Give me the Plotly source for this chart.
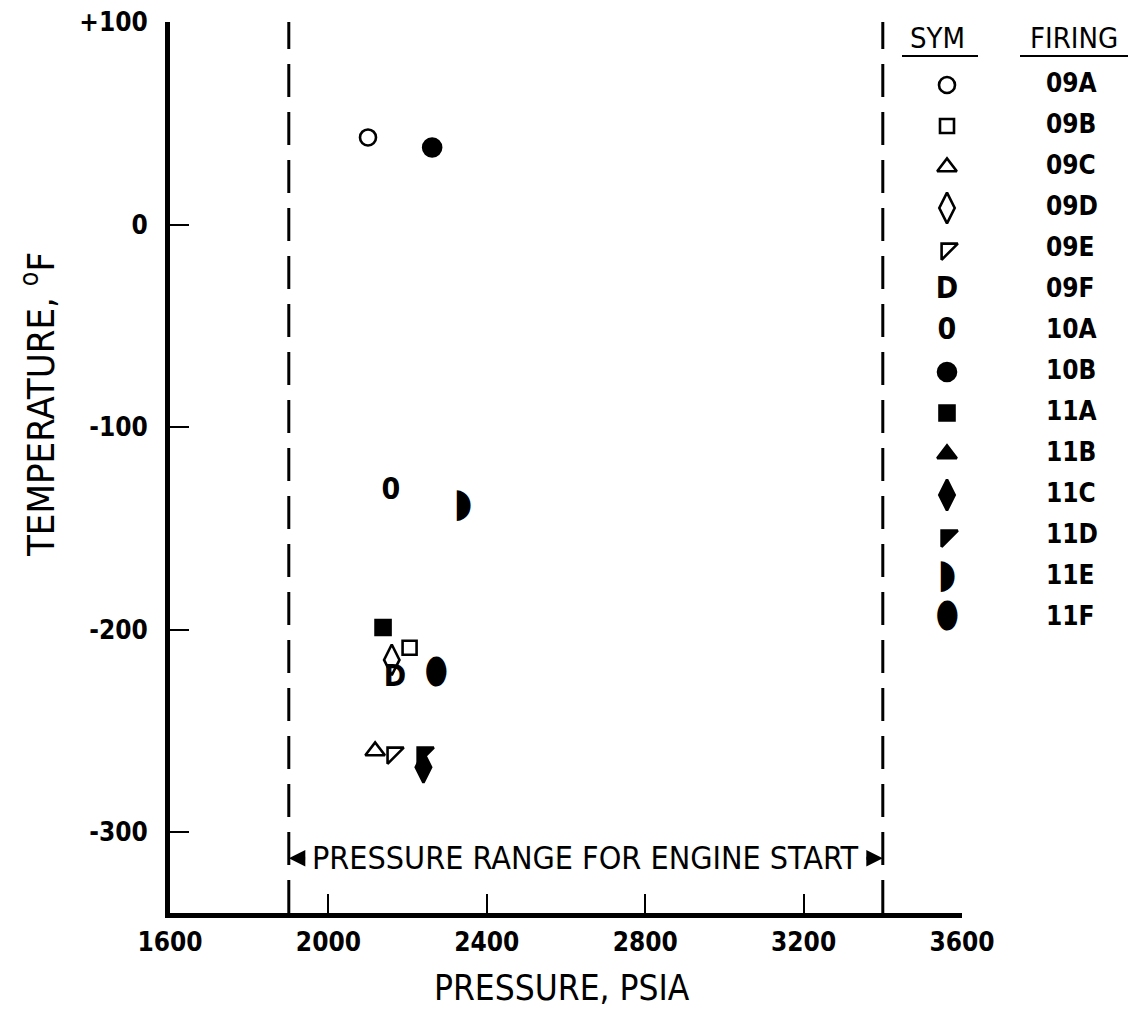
import plotly.graph_objects as go

# ---------------- data ----------------
firings = ["09A", "09B", "09C", "09D", "09E", "09F", "10A",
           "10B", "11A", "11B", "11C", "11D", "11E", "11F"]
pressure_psia = [2100, 2205, 2118, 2160, 2163, 2168, 2158,
                 2262, 2138, None, 2240, 2239, 2340, 2274]
temperature_f = [43, -209, -260, -215, -261, -224, -132,
                 38, -199, None, -268, -261, -139, -222]
x_ticks = [1600, 2000, 2400, 2800, 3200, 3600]
y_ticks = [100, 0, -100, -200, -300]
y_tick_text = ["+100", "0", "-100", "-200", "-300"]
start_range_psia = [1900, 3400]

# ---------------- styles ----------------
# kind "m" -> plotly marker symbol, kind "t" -> text glyph
sym_style = {
    "09A": ("m", "circle-open", 16),
    "09B": ("m", "square-open", 14),
    "09C": ("m", "triangle-up-open", 17),
    "09D": ("m", "diamond-tall-open", 22),
    "09E": ("m", "triangle-nw-open", 18),
    "09F": ("t", "D", 30),
    "10A": ("t", "0", 30),
    "10B": ("m", "circle", 18),
    "11A": ("m", "square", 15),
    "11B": ("m", "triangle-up", 17),
    "11C": ("m", "diamond-tall", 22),
    "11D": ("m", "triangle-nw", 18),
    "11E": ("t", "\u25D7", 40),
    "11F": ("t", "\u2B2E", 36),
}

FONT = "DejaVu Sans Condensed, DejaVu Sans, sans-serif"
W, H = 1135, 1016
ML, MR, MT, MB = 170, 0, 22, 103
AX_RIGHT_PX = 962
paper_w = W - ML - MR
paper_h = H - MT - MB

fig = go.Figure()


def add_symbol(x, y, key, xaxis="x", yaxis="y"):
    kind, val, size = sym_style[key]
    if kind == "m":
        fig.add_trace(go.Scatter(
            x=x, y=y, mode="markers", xaxis=xaxis, yaxis=yaxis,
            marker=dict(symbol=val, size=size, color="black",
                        line=dict(color="black", width=2.6)),
            cliponaxis=False, showlegend=False, hoverinfo="skip"))
    else:
        fig.add_trace(go.Scatter(
            x=x, y=y, mode="text", text=[val] * len(x), xaxis=xaxis, yaxis=yaxis,
            textposition="middle center",
            textfont=dict(family=FONT, size=size, color="black", weight="bold"),
            cliponaxis=False, showlegend=False, hoverinfo="skip"))


# data points
for f, p, t in zip(firings, pressure_psia, temperature_f):
    if p is None:
        continue
    add_symbol([p], [t], f)

# legend table (separate axes in pixel units)
leg_sym_x = 947
leg_lab_x = 1046
leg_row0 = 85
leg_step = 41
leg_rows = [leg_row0 + i * leg_step for i in range(len(firings))]
for f, ypx in zip(firings, leg_rows):
    add_symbol([leg_sym_x], [ypx], f, xaxis="x2", yaxis="y2")
fig.add_trace(go.Scatter(
    x=[leg_lab_x] * len(firings), y=leg_rows,
    mode="text", text=firings, xaxis="x2", yaxis="y2",
    textposition="middle right",
    textfont=dict(family=FONT, size=26, color="black", weight="bold"),
    cliponaxis=False, showlegend=False, hoverinfo="skip"))

# headers + underlines
for txt, cx, x0, x1 in [("SYM", 937, 902, 978), ("FIRING", 1074, 1020, 1128)]:
    fig.add_annotation(x=cx, y=38, xref="x2", yref="y2", text=txt, showarrow=False,
                       font=dict(family=FONT, size=29, color="black"))
    fig.add_shape(type="line", xref="x2", yref="y2", x0=x0, x1=x1, y0=56, y1=56,
                  line=dict(color="black", width=2))

# dashed range lines
for xv in start_range_psia:
    fig.add_shape(type="line", xref="x", yref="y", x0=xv, x1=xv, y0=-340, y1=101,
                  line=dict(color="black", width=3, dash="33px,15px"))

# range annotation with arrows
mid = sum(start_range_psia) / 2
fig.add_annotation(x=mid, y=-313, xref="x", yref="y",
                   text="PRESSURE RANGE FOR ENGINE START", showarrow=False,
                   font=dict(family=FONT, size=32, color="black"))
fig.add_annotation(x=start_range_psia[0], y=-313, ax=start_range_psia[0] + 45, ay=-313,
                   xref="x", yref="y", axref="x", ayref="y", text="",
                   showarrow=True, arrowhead=2, arrowsize=1.1, arrowwidth=3, arrowcolor="black")
fig.add_annotation(x=start_range_psia[1], y=-313, ax=start_range_psia[1] - 45, ay=-313,
                   xref="x", yref="y", axref="x", ayref="y", text="",
                   showarrow=True, arrowhead=2, arrowsize=1.1, arrowwidth=3, arrowcolor="black")

# axis titles
fig.add_annotation(x=(562 - ML) / paper_w, y=(H - MB - 988) / paper_h,
                   xref="paper", yref="paper", xanchor="center", yanchor="middle",
                   text="PRESSURE, PSIA", showarrow=False,
                   font=dict(family=FONT, size=35, color="black"))
fig.add_annotation(x=(38 - ML) / paper_w, y=(H - MB - 405) / paper_h,
                   xref="paper", yref="paper", xanchor="center", yanchor="middle",
                   text="TEMPERATURE, <sup>o</sup>F",
                   textangle=-90, showarrow=False,
                   font=dict(family=FONT, size=38, color="black"))

fig.update_layout(
    width=W, height=H,
    margin=dict(l=ML, r=MR, t=MT, b=MB, pad=0),
    paper_bgcolor="white", plot_bgcolor="rgba(0,0,0,0)",
    showlegend=False,
    xaxis=dict(domain=[0, (AX_RIGHT_PX - ML) / paper_w], range=[1600, 3600],
               tickvals=x_ticks, ticktext=[str(v) for v in x_ticks],
               ticks="inside", ticklen=19, tickwidth=2, tickcolor="black",
               showline=True, linewidth=5, linecolor="black", mirror=False,
               showgrid=False, zeroline=False, automargin=False,
               tickfont=dict(family=FONT, size=26, color="black", weight="bold"),
               ticklabelstandoff=2),
    yaxis=dict(domain=[0, 1], range=[-340, 100],
               tickvals=y_ticks, ticktext=y_tick_text,
               ticks="inside", ticklen=19, tickwidth=2, tickcolor="black",
               showline=True, linewidth=5, linecolor="black",
               showgrid=False, zeroline=False, automargin=False,
               tickfont=dict(family=FONT, size=26, color="black", weight="bold"),
               ticklabelstandoff=12),
    xaxis2=dict(domain=[0, 1], range=[ML, W], visible=False, anchor="y2"),
    yaxis2=dict(domain=[0, 1], range=[H - MB, MT], visible=False, anchor="x2"),
)

fig.write_html("out.html", config={"displayModeBar": False},
               post_script="document.body.style.margin='0';document.body.style.overflow='hidden';")
